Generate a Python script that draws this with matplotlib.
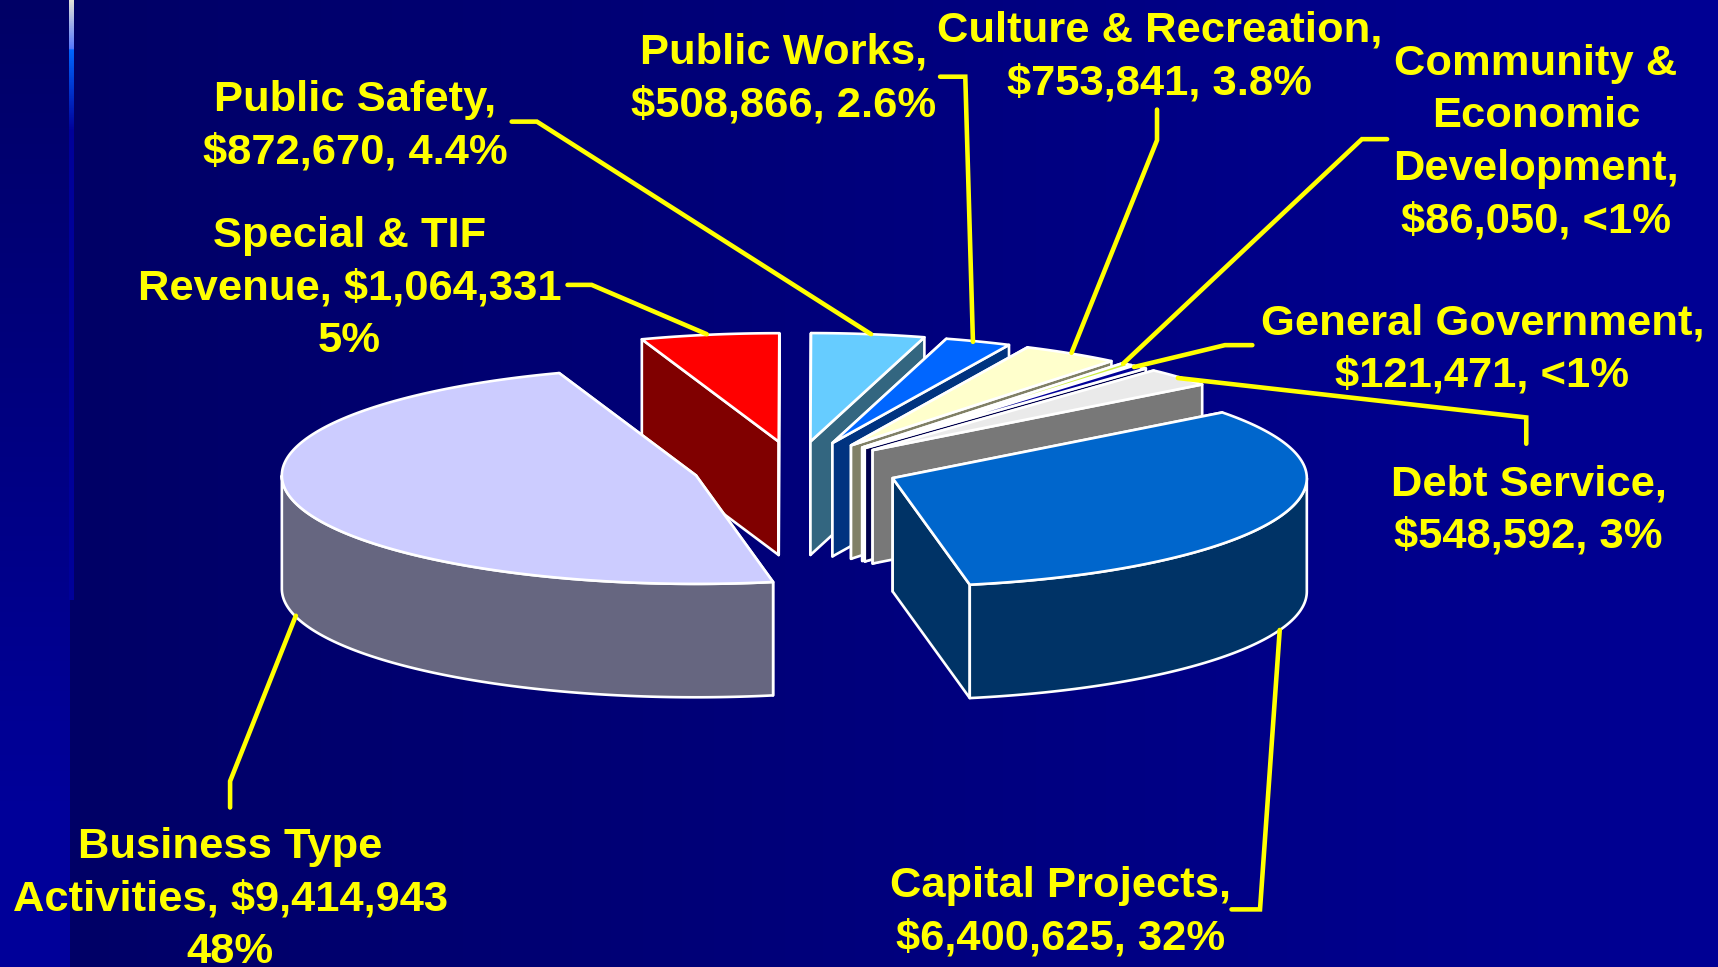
import numpy as np
import matplotlib
matplotlib.use("Agg")
import matplotlib.pyplot as plt
from matplotlib.patches import Polygon
from matplotlib.colors import LinearSegmentedColormap as LSC

# ---- data (clockwise pie order) ----
categories = ["Special & TIF Revenue", "Public Safety", "Public Works", "Culture & Recreation",
              "Community & Economic Development", "General Government", "Debt Service",
              "Capital Projects", "Business Type Activities"]
values = [1064331, 872670, 508866, 753841, 86050, 121471, 548592, 6400625, 9414943]
labels = ["Special & TIF\nRevenue, $1,064,331\n5%",
          "Public Safety,\n$872,670, 4.4%",
          "Public Works,\n$508,866, 2.6%",
          "Culture & Recreation,\n$753,841, 3.8%",
          "Community &\nEconomic\nDevelopment,\n$86,050, <1%",
          "General Government,\n$121,471, <1%",
          "Debt Service,\n$548,592, 3%",
          "Capital Projects,\n$6,400,625, 32%",
          "Business Type\nActivities, $9,414,943\n48%"]
top_colors = ["#FF0000", "#66CCFF", "#0066FF", "#FFFFCC", "#CCEE44", "#000099", "#EAEAEA", "#0066CC", "#CCCCFF"]
wall_colors = ["#800000", "#336680", "#003380", "#808066", "#FFFFFF", "#00004D", "#787878", "#003366", "#666680"]

# ---- layout, in reference pixels of the 1568-wide view ----
S = 1718 / 1568
W, H = 1718, 967
CX, CY, A, B, DEPTH, EXPLODE = 726.5 * S, 427.5 * S, 378 * S, 99 * S, 103.5 * S, 0.25
START = 109.3
label_pos = [(319, 263), (324, 115), (715, 72), (1058, 52), (1402, 130), (1353, 319), (1395, 466), (968, 833), (210, 821)]
leaders = [[(518, 260), (540, 260), (645, 305)],
           [(467, 111), (490, 111), (795, 305)],
           [(858, 70), (881, 70), (888, 312)],
           [(1056, 100), (1056, 128), (978, 322)],
           [(1266, 127), (1243, 127), (1025, 332)],
           [(1143, 315), (1118, 315), (1035, 335)],
           [(1393, 405), (1393, 381), (1075, 345)],
           [(1124, 830), (1150, 830), (1168, 575)],
           [(210, 737), (210, 713), (270, 562)]]

fig = plt.figure(figsize=(W / 100, H / 100), dpi=100)
ax = fig.add_axes([0, 0, 1, 1])

# background
grad = np.linspace(0, 1, 256).reshape(1, -1)
ax.imshow(grad, extent=(70, W, H, 0), aspect="auto", zorder=0,
          cmap=LSC.from_list("m", ["#000066", "#000094"]))
ax.imshow(grad.T, extent=(0, 70, H, 0), aspect="auto", zorder=0,
          cmap=LSC.from_list("l", [(0, "#000066"), (0.83, "#000099"), (1, "#000099")]))
ax.imshow(grad.T, extent=(69, 73.5, 600, 0), aspect="auto", zorder=1,
          cmap=LSC.from_list("s", [(0, "#E0E0D8"), (0.08, "#5577FF"), (0.081, "#0066FF"),
                                   (0.217, "#000099"), (1, "#000099")]))
ax.set_xlim(0, W)
ax.set_ylim(H, 0)
ax.axis("off")


def pt(cx, cy, t):
    return cx + A * np.cos(t), cy - B * np.sin(t)


edge = dict(edgecolor="white", linewidth=1.9, joinstyle="round")
fracs = np.array(values) / sum(values)
t0 = np.radians(START)
for i, f in enumerate(fracs):
    t1 = t0 - f * 2 * np.pi
    mid = (t0 + t1) / 2
    cx, cy = pt(CX, CY, mid)
    cx, cy = CX + EXPLODE * (cx - CX), CY + EXPLODE * (cy - CY)
    z = 2 + i
    ts = np.linspace(t0, t1, max(8, int(f * 400)))
    xs, ys = pt(cx, cy, ts)
    # radial faces
    for t in (t0, t1):
        x, y = pt(cx, cy, t)
        ax.add_patch(Polygon([(cx, cy), (x, y), (x, y + DEPTH), (cx, cy + DEPTH)],
                             facecolor=wall_colors[i], zorder=z, **edge))
    # outer wall: the part of the rim facing the viewer
    keep = np.sin(ts) <= 0
    if keep.any():
        wx, wy = xs[keep], ys[keep]
        ax.add_patch(Polygon(np.r_[np.c_[wx, wy], np.c_[wx[::-1], wy[::-1] + DEPTH]],
                             facecolor=wall_colors[i], zorder=z, **edge))
    # top
    ax.add_patch(Polygon(np.r_[[[cx, cy]], np.c_[xs, ys]], facecolor=top_colors[i], zorder=z, **edge))
    t0 = t1

# leaders and labels
for pts, lab, (lx, ly) in zip(leaders, labels, label_pos):
    p = np.array(pts) * S
    ax.plot(p[:, 0], p[:, 1], color="#FFFF00", lw=3.3, solid_capstyle="round",
            solid_joinstyle="miter", zorder=20)
    ax.text(lx * S, ly * S, lab, color="#FFFF00", ha="center", va="center", multialignment="center",
            fontfamily="Liberation Sans", fontweight="bold", fontsize=31.3, linespacing=1.4, zorder=21,
            clip_on=False)

fig.savefig("out.png", dpi=100)
